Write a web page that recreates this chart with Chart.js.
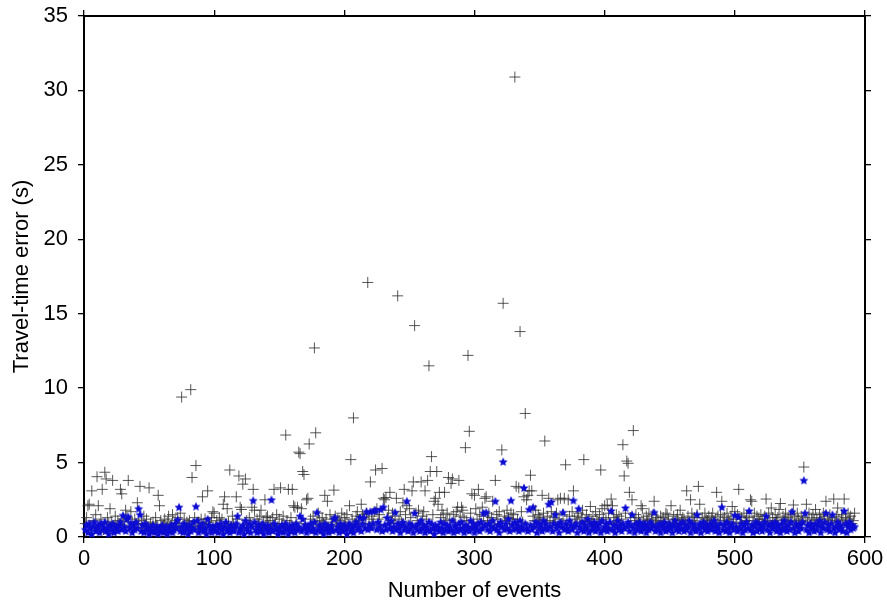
<!DOCTYPE html>
<html><head><meta charset="utf-8">
<script src="https://cdn.jsdelivr.net/npm/chart.js@4"></script>
<style>html,body{margin:0;padding:0;background:#fff;}#wrap{width:887px;height:606px;}</style>
</head><body><div id="wrap"><canvas id="c" width="887" height="606"></canvas></div>
<script>
const xTicks = [0, 100, 200, 300, 400, 500, 600];
const yTicks = [0, 5, 10, 15, 20, 25, 30, 35];
const xTitle = 'Number of events';
const yTitle = 'Travel-time error (s)';

// black "+" series, event 1..592
const blackErrors = [
0.9,1.3,2.1,2.2,0.7,3.1,1.1,0.6,1.5,4.05,
2.1,0.8,1.2,3.2,0.5,4.35,3.9,1.3,0.9,1.9,
1.0,3.8,0.7,1.4,0.6,1.1,0.9,3.2,2.9,1.2,
0.8,1.8,1.3,3.8,0.7,1.7,1.0,0.5,1.2,0.9,
2.3,0.9,3.4,1.1,0.6,1.4,0.8,1.2,0.7,3.3,
0.9,0.6,1.0,0.5,1.3,0.8,2.8,2.1,1.1,0.7,
0.8,1.2,0.6,1.0,1.4,0.7,0.9,1.5,0.6,1.1,
0.9,1.3,0.7,1.6,9.4,0.8,1.2,0.5,1.0,0.9,
1.1,9.9,4.0,0.8,1.3,4.8,0.7,1.0,0.6,1.2,
2.7,0.9,1.2,0.6,3.1,1.0,0.8,1.3,1.7,1.6,
0.7,1.1,0.5,1.3,0.9,1.2,2.2,2.7,0.8,1.9,
1.0,4.5,0.7,1.4,0.9,0.6,2.7,1.2,4.1,2.0,
1.85,3.55,0.8,3.9,1.1,0.6,1.3,0.9,2.0,3.2,
1.8,0.7,1.2,0.9,1.4,1.8,0.6,1.0,2.5,1.3,
1.4,0.8,1.1,0.6,1.3,3.2,0.9,1.5,0.7,1.2,
3.3,0.9,1.4,0.7,6.85,1.1,3.2,0.8,1.3,3.2,
2.1,2.0,1.0,2.0,5.7,5.6,1.9,4.4,4.2,0.9,
2.5,2.6,6.25,1.2,0.8,1.4,12.7,7.0,1.0,1.6,
1.1,0.7,1.3,0.9,2.8,1.2,2.4,0.6,1.5,1.0,
0.8,3.15,1.4,0.7,1.2,1.1,0.9,1.6,0.6,1.3,
1.0,1.5,0.8,2.1,5.2,1.2,8.0,0.9,1.4,1.7,
1.1,0.7,2.2,1.5,1.3,0.9,1.6,17.1,1.2,3.7,
1.4,1.0,1.7,4.5,1.9,1.2,1.5,0.8,4.6,2.6,
2.5,2.65,1.3,1.8,3.0,1.1,1.6,0.9,1.4,2.6,
16.2,1.2,1.7,1.0,2.3,3.2,1.5,2.1,0.8,1.9,
1.3,3.1,3.7,14.2,1.6,1.1,1.8,0.9,3.7,1.4,
1.7,3.1,1.2,3.8,11.5,4.4,5.4,1.5,2.4,2.6,
4.4,2.2,3.0,1.3,1.8,1.5,3.0,1.1,1.6,4.0,
1.2,3.6,3.9,1.5,1.0,1.7,2.0,3.8,1.4,2.0,
1.8,1.3,6.0,1.1,12.2,7.1,1.6,2.9,1.0,2.8,
1.9,1.2,3.2,1.5,0.9,2.0,1.4,2.6,2.7,1.1,
1.6,1.0,1.3,2.4,0.8,3.8,1.5,1.2,1.7,0.9,
5.85,15.7,1.4,1.1,1.8,1.3,0.9,1.6,1.2,1.5,
30.9,3.4,1.2,3.3,13.8,1.7,1.0,2.7,8.3,2.5,
2.8,3.1,4.15,3.1,1.4,1.1,1.8,0.9,1.5,1.3,
1.2,2.8,1.6,6.45,1.0,1.4,2.6,1.1,1.7,0.8,
1.3,1.0,1.6,2.5,1.2,2.6,0.9,1.5,2.6,4.85,
1.1,2.5,1.4,0.8,1.7,3.1,1.2,1.0,1.4,1.6,
0.9,1.3,1.8,5.2,1.1,1.5,0.7,1.2,2.05,1.0,
1.4,0.9,1.7,1.2,1.0,1.5,4.5,1.9,1.3,2.1,
1.2,2.15,1.6,0.9,2.55,2.1,1.3,1.0,1.5,1.1,
1.4,0.8,1.2,6.2,4.1,1.6,5.1,4.95,3.0,1.3,
2.5,7.15,1.1,1.5,0.9,1.3,1.0,2.1,1.9,1.2,
0.8,1.4,1.1,1.6,0.9,1.2,1.5,2.4,1.0,1.3,
1.1,0.7,1.4,1.0,1.3,0.9,1.6,1.5,1.2,0.8,
2.1,1.0,1.4,0.8,1.2,1.5,0.9,1.8,1.1,1.3,
1.2,0.9,3.1,1.4,1.0,2.5,1.6,1.1,1.3,0.8,
1.5,3.4,2.2,1.0,1.3,0.9,1.6,1.2,1.1,1.4,
0.9,1.3,1.6,1.0,1.2,3.0,1.4,0.8,1.5,2.4,
1.1,1.3,0.8,1.6,1.2,1.0,1.4,2.05,0.9,1.7,
1.2,1.5,3.2,1.0,1.3,0.8,1.6,1.1,1.4,0.9,
1.3,2.5,2.4,1.1,1.6,0.9,1.4,1.2,1.0,1.5,
1.2,0.8,1.4,2.55,1.1,1.6,1.0,1.95,1.3,0.9,
1.5,1.1,1.3,1.85,2.25,0.9,1.4,1.2,1.6,1.0,
1.3,0.8,1.5,1.1,2.15,1.4,1.0,1.6,1.2,0.9,
1.4,1.1,4.7,1.3,2.2,1.0,1.6,0.8,1.2,1.5,
1.1,1.85,1.3,0.9,1.5,1.2,1.0,1.6,1.4,2.4,
1.2,0.9,1.5,1.1,1.3,2.55,1.0,1.4,1.95,1.2,
0.8,1.5,1.1,2.55,1.3,1.0,1.6,1.2,1.4,0.9,
1.1,1.6
];

// blue star series, event 1..592
const blueErrors = [
0.5,0.8,0.3,0.9,0.6,0.2,0.7,1.0,0.4,0.6,
0.8,0.3,0.9,0.5,0.7,1.0,0.4,0.6,0.2,0.8,
0.5,0.9,0.3,0.7,0.6,0.4,0.8,1.0,0.5,1.45,
0.7,0.4,1.2,1.36,0.6,0.9,0.3,0.8,0.5,1.0,
0.6,1.9,1.5,0.4,0.8,0.3,0.9,0.5,0.7,0.2,
0.6,0.4,0.8,0.3,0.5,0.7,0.2,0.6,0.4,0.8,
0.3,0.5,0.7,0.2,0.6,0.4,0.8,0.3,0.5,0.9,
0.6,1.15,2.0,0.4,0.7,0.3,0.9,0.5,0.6,0.2,
0.8,0.4,0.6,1.0,0.5,2.05,1.1,0.3,0.7,0.5,
0.9,0.4,0.6,0.2,1.2,0.8,0.5,0.3,0.7,0.6,
0.4,0.8,0.3,0.6,0.9,0.5,0.2,0.7,1.0,0.4,
0.6,0.3,0.8,0.5,0.4,0.7,0.9,1.4,0.3,0.6,
0.5,0.8,0.2,1.1,0.6,0.4,0.9,0.3,0.7,2.45,
1.0,0.5,0.3,0.8,0.6,0.4,0.9,0.2,0.7,0.5,
0.8,0.3,0.6,2.5,0.4,0.9,0.5,0.7,0.2,0.6,
0.4,0.8,0.3,0.6,0.9,0.5,0.2,0.7,0.4,0.8,
0.6,0.3,0.9,0.5,0.7,1.4,0.4,1.2,0.6,0.8,
0.3,0.7,0.5,0.9,0.4,0.6,1.0,0.3,1.65,0.5,
0.8,0.4,0.6,0.2,0.9,0.5,0.7,0.3,0.6,0.8,
0.4,1.2,1.3,0.5,0.7,0.3,0.9,0.6,0.4,0.8,
0.5,0.2,0.7,0.9,0.4,0.6,0.3,0.8,1.0,0.5,
0.7,1.3,0.4,0.9,1.3,0.6,1.7,0.5,0.8,1.7,
0.6,0.9,1.75,1.8,0.5,1.0,0.7,1.85,0.4,2.0,
0.8,0.5,1.3,0.9,0.6,1.1,0.4,0.7,1.65,0.5,
0.9,0.6,0.3,0.8,1.0,0.5,0.7,2.4,0.4,0.9,
0.6,0.8,0.3,1.6,0.7,0.5,0.9,0.4,1.1,0.6,
0.8,0.3,0.7,0.5,1.0,0.4,0.9,0.6,0.2,0.8,
0.5,0.7,0.4,1.0,0.6,0.3,0.9,0.5,0.8,0.4,
0.7,0.5,1.1,0.3,0.8,0.6,0.4,0.9,0.5,1.0,
0.6,0.3,0.8,0.5,0.7,0.4,1.1,0.6,0.9,0.3,
0.7,0.5,0.9,0.4,1.0,0.6,1.6,0.8,1.65,0.5,
0.9,0.4,0.7,1.1,0.6,2.4,0.5,0.8,0.3,1.0,
0.7,5.05,0.5,0.9,0.6,1.2,0.4,2.45,0.8,0.5,
1.0,0.6,0.8,0.4,1.1,0.7,0.5,3.3,0.9,0.6,
0.4,1.85,0.8,0.5,2.0,0.7,1.0,0.3,0.9,0.6,
0.8,0.4,1.1,0.6,0.9,0.5,2.2,0.7,2.35,0.4,
0.9,1.5,0.6,0.8,0.3,1.0,0.7,1.65,0.5,0.9,
0.6,0.4,1.1,0.8,0.5,2.45,0.7,0.9,0.3,1.9,
0.7,0.5,1.0,0.4,0.8,0.6,1.2,0.3,0.9,0.5,
0.7,1.0,0.4,0.8,0.6,0.9,0.3,1.1,0.5,0.7,
0.9,0.4,0.6,1.0,1.75,0.5,0.8,0.3,0.7,1.1,
0.5,0.8,0.4,0.9,0.6,1.95,0.7,1.0,0.4,0.8,
1.5,0.6,0.3,0.9,0.5,0.7,1.0,0.4,0.8,0.6,
0.9,0.3,0.7,0.5,1.0,0.6,0.8,1.65,0.4,0.7,
0.5,0.9,0.3,0.8,0.6,1.0,0.4,0.7,0.5,0.9,
0.6,0.3,0.8,1.1,0.5,0.7,0.4,0.9,0.6,1.0,
0.4,0.8,0.5,0.7,1.1,0.3,0.9,0.6,0.8,0.4,
1.5,0.6,0.9,0.3,0.7,1.0,0.5,0.8,0.4,0.6,
0.9,0.5,0.7,1.1,0.4,0.8,0.6,0.3,0.9,2.0,
0.5,0.8,0.4,1.0,0.6,0.3,0.7,0.9,0.5,1.45,
0.7,0.4,1.35,0.6,0.9,0.3,0.8,0.5,1.0,0.6,
1.75,0.5,0.8,0.3,0.7,1.0,0.4,0.9,0.6,0.8,
0.4,0.7,1.0,1.4,0.5,0.8,0.3,0.9,0.6,0.7,
1.0,0.4,0.8,0.6,0.3,0.9,0.5,1.1,0.7,0.4,
0.8,0.5,1.0,1.7,0.6,0.3,0.9,0.7,0.4,0.8,
0.6,1.0,3.8,1.6,0.5,0.8,0.3,0.9,0.6,0.7,
0.4,0.9,0.5,0.8,1.1,0.3,0.7,0.6,1.0,1.6,
0.5,0.8,0.4,0.9,1.5,0.6,0.3,0.7,1.0,0.5,
0.8,0.6,0.4,1.75,0.9,0.3,0.7,1.0,0.5,0.8,
0.6,0.7
];

function toPoints(arr) { return arr.map((v, i) => ({ x: i + 1, y: v })); }

function makeStar(r, color) {
  const s = Math.ceil(r * 2) + 2;
  const c = document.createElement('canvas');
  c.width = s; c.height = s;
  const g = c.getContext('2d');
  g.fillStyle = color;
  g.beginPath();
  for (let i = 0; i < 10; i++) {
    const a = -Math.PI / 2 + i * Math.PI / 5;
    const rr = (i % 2 === 0) ? r : r * 0.47;
    g.lineTo(s / 2 + rr * Math.cos(a), s / 2 + rr * Math.sin(a) + 0.3);
  }
  g.closePath();
  g.fill();
  return c;
}

const FONT = "'Liberation Sans', Arial, Helvetica, sans-serif";
const starImg = makeStar(4.7, '#0c0cd2');

function fixBox(prop, size) {
  return s => {
    s[prop] = size;
    s.paddingTop = 0; s.paddingBottom = 0; s.paddingLeft = 0; s.paddingRight = 0;
  };
}

const axisCommon = {
  border: { display: true, color: '#000', width: 2 },
  grid: { drawOnChartArea: false, drawTicks: true, tickLength: 6, color: '#000', lineWidth: 1.3 }
};

new Chart(document.getElementById('c'), {
  type: 'scatter',
  data: {
    datasets: [
      { label: 'blue', data: toPoints(blueErrors), order: 0, pointStyle: starImg, pointRadius: 4.5, clip: false },
      { label: 'black', data: toPoints(blackErrors), order: 1, pointStyle: 'cross', pointRadius: 5.5,
        borderColor: 'rgba(45,45,45,0.8)', backgroundColor: 'rgba(45,45,45,0.8)', borderWidth: 1, clip: false }
    ]
  },
  options: {
    responsive: false,
    animation: false,
    devicePixelRatio: 1,
    events: [],
    layout: { padding: 0 },
    plugins: { legend: { display: false }, tooltip: { enabled: false } },
    scales: {
      x: {
        type: 'linear', position: 'bottom', min: xTicks[0], max: xTicks[xTicks.length - 1],
        ...axisCommon,
        afterBuildTicks: s => { s.ticks = xTicks.map(v => ({ value: v })); },
        afterFit: fixBox('height', 69),
        ticks: { color: '#000', font: { family: FONT, size: 22 }, padding: 3, maxRotation: 0 },
        title: { display: true, text: xTitle, color: '#000', font: { family: FONT, size: 22 }, padding: { top: 0, bottom: 2 } }
      },
      y: {
        type: 'linear', position: 'left', min: yTicks[0], max: yTicks[yTicks.length - 1],
        ...axisCommon,
        afterBuildTicks: s => { s.ticks = yTicks.map(v => ({ value: v })); },
        afterFit: fixBox('width', 84),
        ticks: { color: '#000', font: { family: FONT, size: 22 }, padding: 10 },
        title: { display: true, text: yTitle, color: '#000', font: { family: FONT, size: 22 }, padding: { top: 9, bottom: 0 } }
      },
      x2: {
        type: 'linear', position: 'top', min: xTicks[0], max: xTicks[xTicks.length - 1],
        ...axisCommon,
        afterBuildTicks: s => { s.ticks = xTicks.map(v => ({ value: v })); },
        afterFit: fixBox('height', 16),
        ticks: { display: false }
      },
      y2: {
        type: 'linear', position: 'right', min: yTicks[0], max: yTicks[yTicks.length - 1],
        ...axisCommon,
        afterBuildTicks: s => { s.ticks = yTicks.map(v => ({ value: v })); },
        afterFit: fixBox('width', 22),
        ticks: { display: false }
      }
    }
  }
});
</script>
</body></html>
